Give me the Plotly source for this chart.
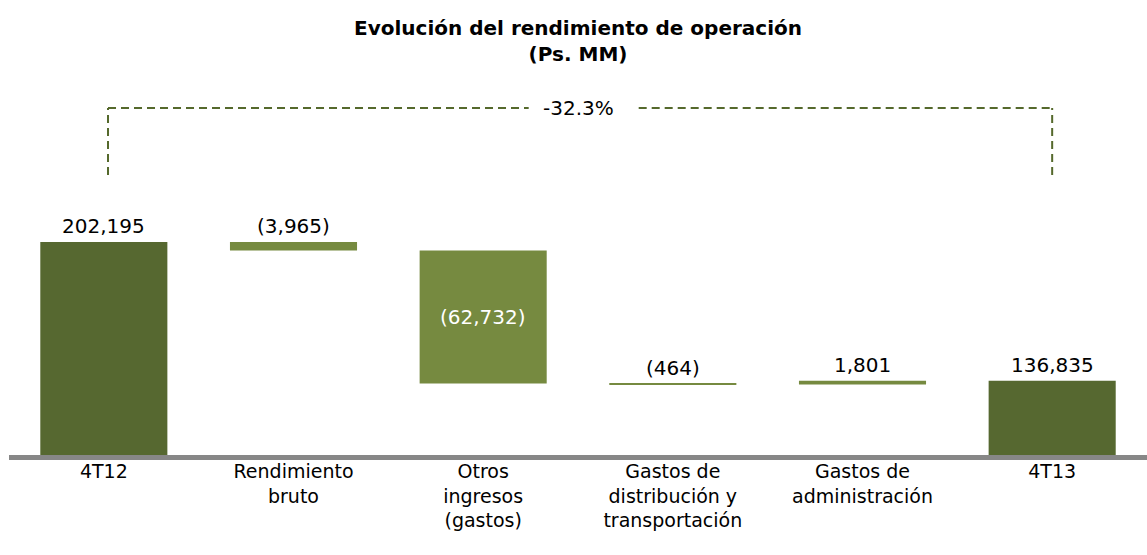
import plotly.graph_objects as go

# ---- data ----
categories = [
    "4T12",
    "Rendimiento<br>bruto",
    "Otros<br>ingresos<br>(gastos)",
    "Gastos de<br>distribución y<br>transportación",
    "Gastos de<br>administración",
    "4T13",
]
values = [202195, -3965, -62732, -464, 1801, 136835]
measures = ["absolute", "relative", "relative", "relative", "relative", "total"]
label_inside = [False, False, True, False, False, False]

title_text = "<b>Evolución del rendimiento de operación<br>(Ps. MM)</b>"

# ---- styles ----
DARK = "#566830"
LIGHT = "#768a40"
FONT = "DejaVu Sans"


def fmt(v):
    s = f"{abs(v):,}"
    return f"({s})" if v < 0 else s


texts = [fmt(v) for v in values]
pct_change = (values[-1] / values[0] - 1) * 100
pct_text = f"{pct_change:.1f}%"

fig = go.Figure(
    go.Waterfall(
        x=categories,
        y=values,
        measure=measures,
        totals=dict(marker=dict(color=DARK)),
        increasing=dict(marker=dict(color=LIGHT)),
        decreasing=dict(marker=dict(color=LIGHT)),
        connector=dict(visible=False),
        hoverinfo="skip",
    )
)

# value labels from the running total
running = 0
for i, (cat, v, m) in enumerate(zip(categories, values, measures)):
    if m == "absolute":
        start, end = 0, v
        running = v
    elif m == "total":
        start, end = 0, running
    else:
        start, end = running, running + v
        running += v
    top = max(start, end)
    if label_inside[i]:
        fig.add_annotation(x=cat, y=(start + end) / 2, text=texts[i], showarrow=False,
                           font=dict(family=FONT, size=20, color="white"), yanchor="middle")
    else:
        fig.add_annotation(x=cat, y=top, text=texts[i], showarrow=False,
                           font=dict(family=FONT, size=20, color="black"),
                           yanchor="bottom", yshift=2)

# bracket showing overall change
bracket_style = dict(color="#55692c", width=2, dash="8px,5px")
y_top = 0.836
y_bot = 0.675
x_left = 0.022
x_right = 5.0
fig.add_shape(type="line", xref="x", yref="paper", x0=x_left, x1=x_left, y0=y_bot, y1=y_top, line=bracket_style)
fig.add_shape(type="line", xref="x", yref="paper", x0=x_right, x1=x_right, y0=y_bot, y1=y_top, line=bracket_style)
fig.add_shape(type="line", xref="x", yref="paper", x0=x_left, x1=2.24, y0=y_top, y1=y_top, line=bracket_style)
fig.add_shape(type="line", xref="x", yref="paper", x0=2.82, x1=x_right, y0=y_top, y1=y_top, line=bracket_style)
fig.add_annotation(
    x=2.5, xref="x", y=y_top, yref="paper", text=pct_text, showarrow=False,
    font=dict(family=FONT, size=20, color="black"), yanchor="middle",
)

fig.update_layout(
    width=1147,
    height=555,
    margin=dict(l=9, r=0, t=40, b=100),
    paper_bgcolor="white",
    plot_bgcolor="white",
    showlegend=False,
    waterfallgap=0.33,
    title=dict(
        text=title_text,
        x=0.5,
        xref="paper",
        xanchor="center",
        y=1 - 35 / 555,
        yanchor="top",
        font=dict(family=FONT, size=20, color="black"),
    ),
    font=dict(family=FONT, size=20, color="black"),
    xaxis=dict(
        showline=True,
        linecolor="#878787",
        linewidth=5,
        showgrid=False,
        zeroline=False,
        ticks="",
        automargin=False,
        ticklabelstandoff=-5,
        tickfont=dict(family=FONT, size=19, color="black"),
    ),
    yaxis=dict(visible=False, range=[101800, 297500], showgrid=False, zeroline=False, automargin=False),
)

fig.write_html(
    "out.html",
    config={"displayModeBar": False},
    post_script="document.body.style.margin='0';document.body.style.overflow='hidden';",
)
